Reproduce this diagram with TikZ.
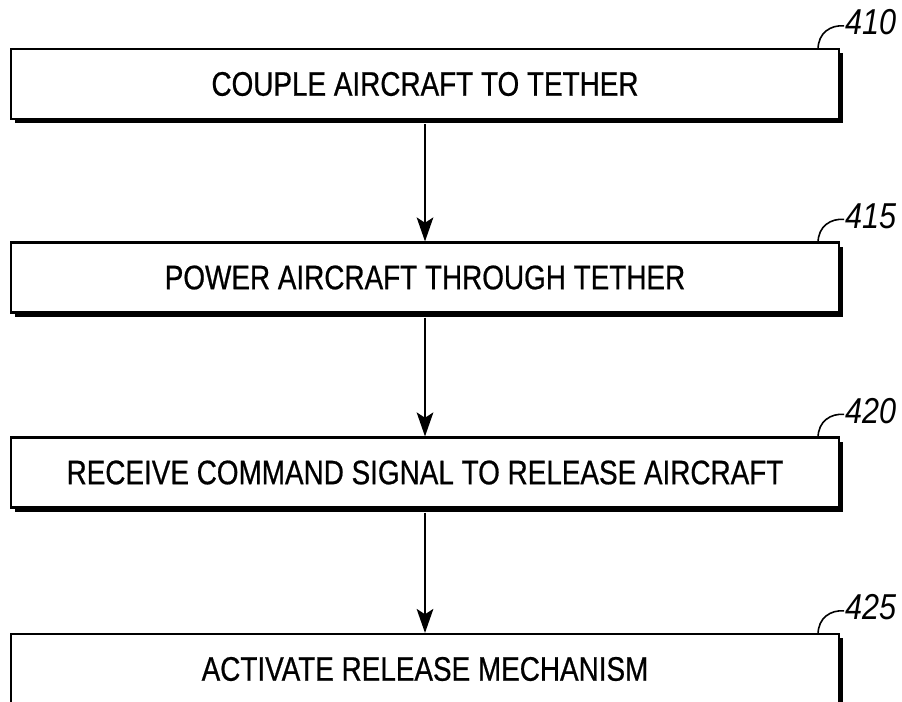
\documentclass[tikz,border=0pt]{standalone}
\usepackage{fontspec}
\setmainfont{Liberation Sans}[FakeStretch=0.82,FakeBold=0.6]
\newfontfamily\reffont{Liberation Sans}[FakeStretch=0.85]
\usetikzlibrary{arrows.meta,shadows}
\begin{document}
\begin{tikzpicture}[x=0.75pt,y=-0.75pt,
  stepbox/.style={draw=black, line width=1.6pt, fill=white,
    minimum width=621pt, minimum height=52.5pt, inner sep=0pt,
    font=\fontsize{25.5}{30}\selectfont,
    drop shadow={shadow xshift=3pt, shadow yshift=-3pt, opacity=1, fill=black}},
  flow/.style={line width=1.3pt, -{Stealth[length=18pt,width=12.5pt,inset=4pt]}},
  leader/.style={line width=1.2pt},
  reflbl/.style={anchor=west, inner sep=0pt, font=\reffont\itshape\fontsize{27}{30}\selectfont}]
\useasboundingbox (0,0) rectangle (902,702);

\node[stepbox] (b1) at (425,84)    {COUPLE AIRCRAFT TO TETHER};
\node[stepbox] (b2) at (425,277.5) {POWER AIRCRAFT THROUGH TETHER};
\node[stepbox] (b3) at (425,472.5) {RECEIVE COMMAND SIGNAL TO RELEASE AIRCRAFT};
\node[stepbox] (b4) at (425,669)   {ACTIVATE RELEASE MECHANISM};

\draw[flow] ([yshift=-3pt]b1.south) -- (b2.north);
\draw[flow] ([yshift=-3pt]b2.south) -- (b3.north);
\draw[flow] ([yshift=-3pt]b3.south) -- (b4.north);

\foreach \b/\t in {b1/410, b2/415, b3/420, b4/425}{
  \coordinate (s\b) at ([xshift=-16.5pt,yshift=-0.8pt]\b.north east);
  \coordinate (e\b) at ([xshift=3pt,yshift=16.5pt]\b.north east);
  \draw[leader] (s\b) .. controls ([yshift=12pt]s\b) and ([xshift=-10pt,yshift=1pt]e\b) .. (e\b);
  \node[reflbl] (l\b) at ([xshift=3.5pt,yshift=19pt]\b.north east) {\t};
}
\end{tikzpicture}
\end{document}
